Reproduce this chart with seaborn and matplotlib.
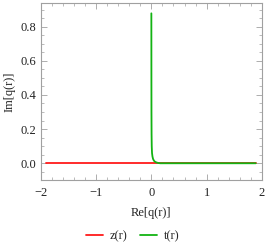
import pandas as pd
import matplotlib.pyplot as plt
import seaborn as sns
from matplotlib.ticker import MultipleLocator

# curve points
z_re = [-1.897, 1.886]
z_im = [0.0, 0.0]
t_re = [0.0, 0.001, 0.002, 0.004, 0.007, 0.012, 0.02, 0.03, 0.045, 0.065, 0.09, 0.12, 0.16, 1.886]
t_im = [0.878, 0.5, 0.3, 0.17, 0.1, 0.06, 0.04, 0.026, 0.016, 0.009, 0.005, 0.002, 0.0, 0.0]
labels = ["z(r)", "t(r)"]
colors = ["#ff1a1a", "#13b313"]

df = pd.concat([
    pd.DataFrame({"re": z_re, "im": z_im, "curve": labels[0]}),
    pd.DataFrame({"re": t_re, "im": t_im, "curve": labels[1]}),
], ignore_index=True)

sns.set_style("ticks")
plt.rcParams["font.family"] = ["Liberation Serif", "DejaVu Serif"]

fig = plt.figure(figsize=(2.66, 2.5), dpi=100)
ax = fig.add_axes([0.153, 0.28, 0.832, 0.709])
sns.lineplot(data=df, x="re", y="im", hue="curve", estimator=None, sort=False,
             palette=colors, linewidth=1.3, legend=False, ax=ax)

ax.set_xlim(-2, 2)
ax.set_ylim(-0.098, 0.94)
ax.xaxis.set_major_locator(MultipleLocator(1))
ax.xaxis.set_minor_locator(MultipleLocator(0.2))
ax.yaxis.set_major_locator(MultipleLocator(0.2))
ax.yaxis.set_minor_locator(MultipleLocator(0.05))
ax.xaxis.set_major_formatter(plt.FuncFormatter(lambda v, p: f"{v:.0f}".replace("-", "\u2212")))
ax.yaxis.set_major_formatter(plt.FuncFormatter(lambda v, p: f"{v:.1f}"))

frame = "#a0a0a0"
for s in ax.spines.values():
    s.set_color(frame)
    s.set_linewidth(0.8)
ax.tick_params(which="both", direction="in", top=True, right=True, color=frame,
               labelsize=9, labelcolor="#222222")
ax.tick_params(axis="x", pad=5)
ax.tick_params(axis="y", pad=3)
ax.tick_params(which="major", length=4, width=0.6)
ax.tick_params(which="minor", length=2, width=0.5)

ax.set_xlabel("Re[q(r)]", fontsize=9, color="#222222", labelpad=6)
ax.set_ylabel("Im[q(r)]", fontsize=9, color="#222222", labelpad=4)

handles = [plt.Line2D([], [], color=c, lw=1.3) for c in colors]
fig.legend(handles, labels, loc="center", bbox_to_anchor=(0.5, 0.056), ncol=2,
           frameon=False, fontsize=9, handlelength=1.3, handletextpad=0.6,
           columnspacing=1.0)

fig.savefig("out.png", dpi=100)
